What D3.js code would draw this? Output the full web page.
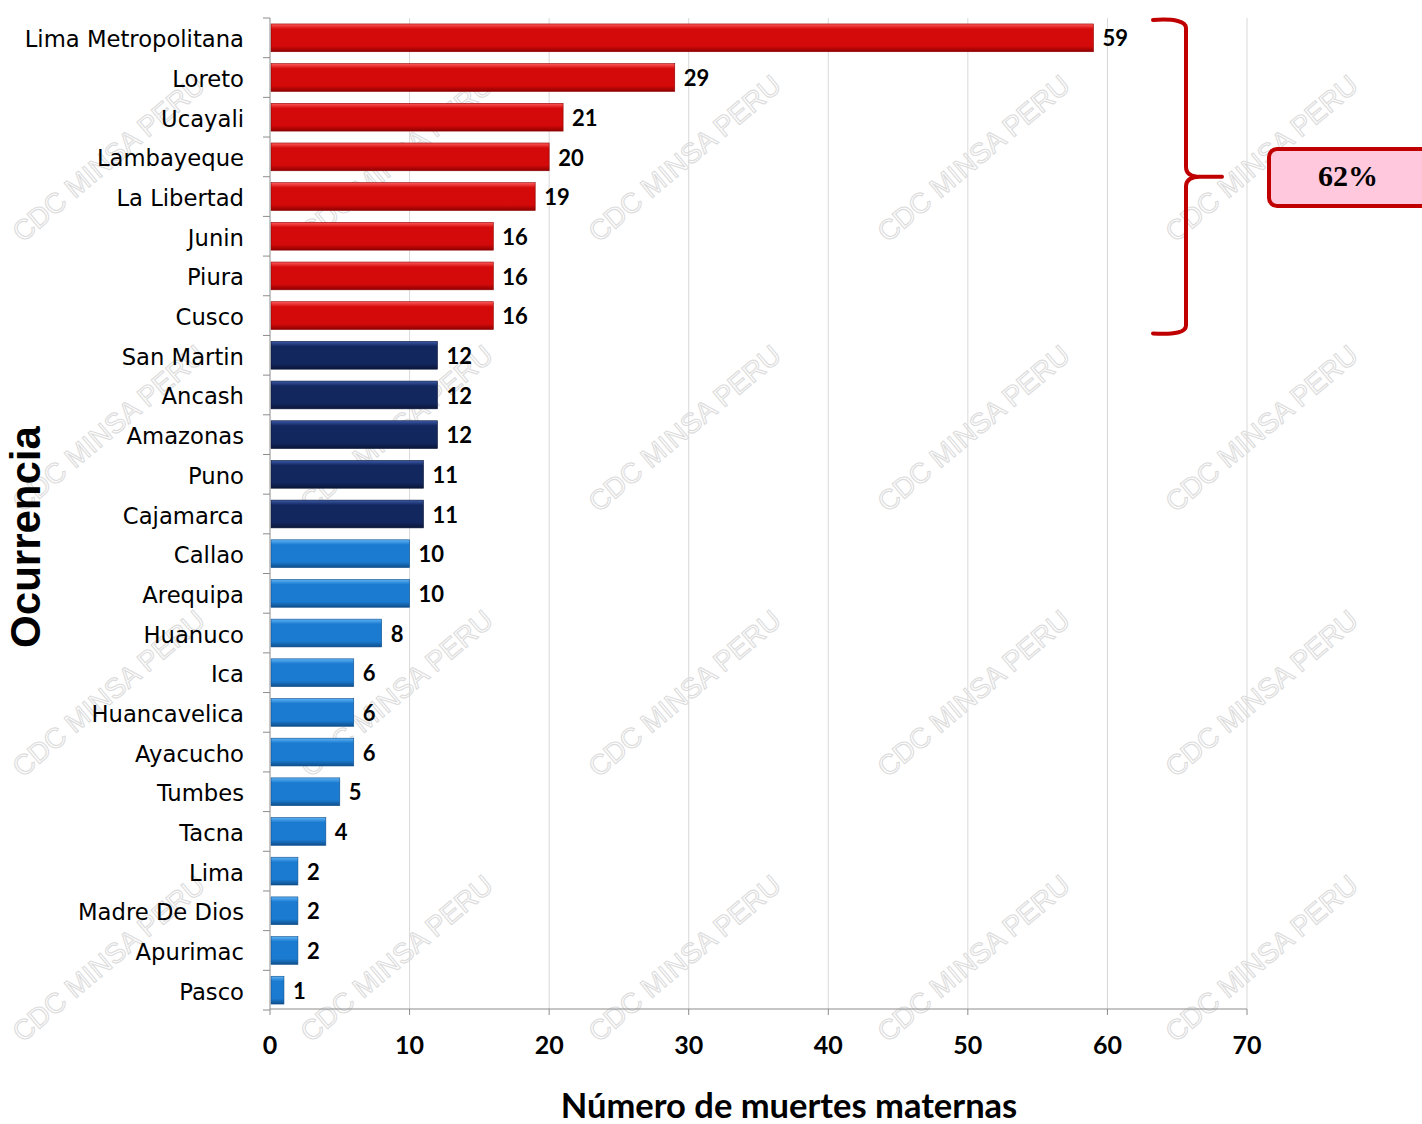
<!DOCTYPE html>
<html><head><meta charset="utf-8">
<script src="https://cdn.jsdelivr.net/npm/d3@7"></script>
<style>body{margin:0;background:#fff}svg{display:block}</style>
</head><body>
<svg id="c" width="1422" height="1124"></svg>
<script>
const categories = ["Lima Metropolitana","Loreto","Ucayali","Lambayeque","La Libertad","Junin","Piura","Cusco","San Martin","Ancash","Amazonas","Puno","Cajamarca","Callao","Arequipa","Huanuco","Ica","Huancavelica","Ayacucho","Tumbes","Tacna","Lima","Madre De Dios","Apurimac","Pasco"];
const values = [59,29,21,20,19,16,16,16,12,12,12,11,11,10,10,8,6,6,6,5,4,2,2,2,1];
const groups = ["top","top","top","top","top","top","top","top","mid","mid","mid","mid","mid","low","low","low","low","low","low","low","low","low","low","low","low"];
const xTicks = [0,10,20,30,40,50,60,70];
const xTitle = "Número de muertes maternas";
const yTitle = "Ocurrencia";
const shareLabel = "62%";

const svg = d3.select("#c");
const x = d3.scaleLinear().domain([0,70]).range([270,1247]);
const y = d3.scaleBand().domain(categories).range([18,1010]).paddingInner(0.3).paddingOuter(0.15);

const defs = svg.append("defs");
const pal = {top:["#ff5a5a","#d40a0a","#8e0000"], mid:["#3b5aa8","#13275f","#0a1638"], low:["#5fb3f5","#1b7bd0","#0e4e8c"]};
Object.entries(pal).forEach(([k,c])=>{
  const g = defs.append("linearGradient").attr("id","g_"+k).attr("x1",0).attr("x2",0).attr("y1",0).attr("y2",1);
  g.append("stop").attr("offset","0%").attr("stop-color",c[0]);
  g.append("stop").attr("offset","18%").attr("stop-color",c[1]);
  g.append("stop").attr("offset","80%").attr("stop-color",c[1]);
  g.append("stop").attr("offset","100%").attr("stop-color",c[2]);
});

// watermarks
const wm = svg.append("g");
[110,398,686,975,1263].forEach(cx=>{
  [160,430,695,960].forEach(cy=>{
    wm.append("text").attr("transform",`translate(${cx},${cy}) rotate(-40)`).attr("text-anchor","middle")
      .attr("dominant-baseline","middle").attr("font-family","Liberation Sans, Arial").attr("font-size",28)
      .attr("fill","none").attr("stroke","#dcdcdc").attr("stroke-width",1.1).text("CDC MINSA PERU");
  });
});

// gridlines
svg.append("g").selectAll("line").data(xTicks.slice(1)).join("line")
  .attr("x1",d=>x(d)).attr("x2",d=>x(d)).attr("y1",18).attr("y2",1009)
  .attr("stroke","#d9d9d9").attr("stroke-width",1);

// bars
svg.append("g").selectAll("rect").data(categories).join("rect")
  .attr("x",x(0)+1).attr("y",d=>y(d)).attr("height",y.bandwidth())
  .attr("width",(d,i)=>x(values[i])-x(0)-1)
  .attr("fill",(d,i)=>`url(#g_${groups[i]})`)
  .attr("stroke",(d,i)=>pal[groups[i]][2]).attr("stroke-width",0.6);

// value labels
svg.append("g").selectAll("text").data(categories).join("text")
  .attr("x",(d,i)=>x(values[i])+9).attr("y",d=>y(d)+y.bandwidth()/2+3)
  .attr("dominant-baseline","middle").attr("font-family","Lato, sans-serif").attr("font-weight","bold")
  .attr("font-size",22).attr("fill","#000").text((d,i)=>values[i]);

// y axis
const yAxis = svg.append("g");
yAxis.append("line").attr("x1",270).attr("x2",270).attr("y1",18).attr("y2",1009).attr("stroke","#8c8c8c");
const bounds = d3.range(categories.length+1).map(i=>18+i*(1010-18)/categories.length);
yAxis.selectAll("line.t").data(bounds).join("line").attr("class","t")
  .attr("x1",263).attr("x2",270).attr("y1",d=>d).attr("y2",d=>d).attr("stroke","#8c8c8c");
yAxis.selectAll("text").data(categories).join("text")
  .attr("x",244).attr("y",d=>y(d)+y.bandwidth()/2+3).attr("text-anchor","end").attr("dominant-baseline","middle")
  .attr("font-family","DejaVu Sans, Verdana, sans-serif").attr("font-size",22.7).attr("fill","#000").text(d=>d);

// x axis
const xAxis = svg.append("g");
xAxis.append("line").attr("x1",270).attr("x2",1247).attr("y1",1009).attr("y2",1009).attr("stroke","#8c8c8c");
xAxis.selectAll("line.t").data(xTicks).join("line").attr("class","t")
  .attr("x1",d=>x(d)).attr("x2",d=>x(d)).attr("y1",1009).attr("y2",1015).attr("stroke","#8c8c8c");
xAxis.selectAll("text").data(xTicks).join("text")
  .attr("x",d=>x(d)).attr("y",1048).attr("text-anchor","middle").attr("dominant-baseline","middle")
  .attr("font-family","Lato, sans-serif").attr("font-weight","bold").attr("font-size",25).text(d=>d);

svg.append("text").attr("x",789).attr("y",1109).attr("text-anchor","middle").attr("dominant-baseline","middle")
  .attr("font-family","Lato, sans-serif").attr("font-weight","bold").attr("font-size",34.5).text(xTitle);
svg.append("text").attr("transform","translate(29,537) rotate(-90)").attr("text-anchor","middle").attr("dominant-baseline","middle")
  .attr("font-family","Liberation Sans, Arial, sans-serif").attr("font-weight","bold").attr("font-size",42).text(yTitle);

// brace around top 8
const bTop = y(categories[0]) - 4, bBot = y(categories[7]) + y.bandwidth() + 4;
const bMid = (bTop+bBot)/2;
const bx = 1186;
const brace = `M1153,${bTop} Q1186,${bTop-2} ${bx},${bTop+8} L${bx},${bMid-10} Q${bx},${bMid} 1200,${bMid} L1222,${bMid}
 M1200,${bMid} Q${bx},${bMid} ${bx},${bMid+10} L${bx},${bBot-8} Q1186,${bBot+2} 1153,${bBot}`;
svg.append("path").attr("d",brace).attr("fill","none").attr("stroke","#c00000").attr("stroke-width",4).attr("stroke-linecap","round");

svg.append("rect").attr("x",1269).attr("y",149).attr("width",170).attr("height",57).attr("rx",8)
  .attr("fill","#ffc8dc").attr("stroke","#c00000").attr("stroke-width",4);
svg.append("text").attr("x",1348).attr("y",179).attr("text-anchor","middle").attr("dominant-baseline","middle")
  .attr("font-family","Liberation Serif, Times New Roman, serif").attr("font-weight","bold").attr("font-size",30).text(shareLabel);
</script>
</body></html>
